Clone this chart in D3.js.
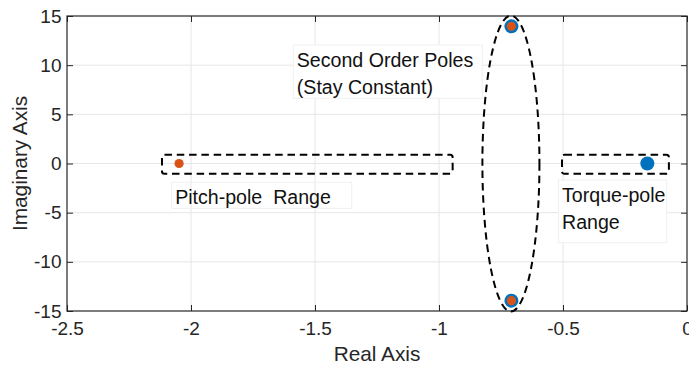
<!DOCTYPE html>
<html>
<head>
<meta charset="utf-8">
<script src="https://cdn.jsdelivr.net/npm/d3@7"></script>
<style>
  body { margin: 0; background: #fff; }
  text { font-family: "Liberation Sans", Arial, sans-serif; }
</style>
</head>
<body>
<div id="chart"></div>
<script>
// tick values
const xTicks = [-2.5, -2, -1.5, -1, -0.5, 0];
const yTicks = [-15, -10, -5, 0, 5, 10, 15];

// poles: [real, imag]
const secondOrderPoles = [[-0.708, 13.95], [-0.708, -13.95]];
const pitchPole = [[-2.048, 0]];
const torquePole = [[-0.16, 0]];

// annotation shapes in data units: [x1, x2, yTop, yBottom]
const pitchRange = [-2.117, -0.945, 0.9, -1.05];
const torqueRange = [-0.504, -0.073, 0.9, -1.05];
// ellipse: [cx, cy, rx, ry]
const poleEllipse = [-0.71, 0, 0.115, 15.05];

// text boxes: [x1, x2, yTop, yBottom], lines
const textBoxes = [
  {box: [-1.5875, -0.8254, 12.05, 6.63], lines: ['Second Order Poles', '(Stay Constant)'], fill: '#fff'},
  {box: [-2.078, -1.352, -1.91, -4.56], lines: ['Pitch-pole\u00a0 Range'], fill: 'none'},
  {box: [-0.518, -0.082, -1.68, -8.05], lines: ['Torque-pole', 'Range'], fill: '#fff'}
];

const width = 689;
const height = 365;
const margin = {top: 16, right: 2, bottom: 54, left: 67};

const svg = d3.select('#chart')
  .append('svg')
    .attr('width', width)
    .attr('height', height);

const x = d3.scaleLinear()
  .domain([-2.5, 0])
  .range([margin.left, width - margin.right]);
const y = d3.scaleLinear()
  .domain([-15, 15])
  .range([height - margin.bottom, margin.top]);

const axisColor = '#262626';

// grid
svg.append('g')
  .selectAll('line')
  .data(xTicks.slice(1, -1))
  .join('line')
    .attr('x1', d => x(d)).attr('x2', d => x(d))
    .attr('y1', y(15)).attr('y2', y(-15))
    .attr('stroke', '#e6e6e6')
    .attr('stroke-width', 1);
svg.append('g')
  .selectAll('line')
  .data(yTicks.slice(1, -1))
  .join('line')
    .attr('x1', x(-2.5)).attr('x2', x(0))
    .attr('y1', d => y(d)).attr('y2', d => y(d))
    .attr('stroke', '#e6e6e6')
    .attr('stroke-width', 1);

// text boxes
const tb = svg.append('g')
  .selectAll('g')
  .data(textBoxes)
  .join('g');
tb.append('rect')
  .attr('x', d => x(d.box[0]))
  .attr('y', d => y(d.box[2]))
  .attr('width', d => x(d.box[1]) - x(d.box[0]))
  .attr('height', d => y(d.box[3]) - y(d.box[2]))
  .attr('fill', d => d.fill)
  .attr('stroke', '#f0f0f0')
  .attr('stroke-width', 1);
tb.selectAll('text')
  .data(d => d.lines.map((l, i) => ({l, i, box: d.box})))
  .join('text')
    .attr('x', d => x(d.box[0]) + 3.5)
    .attr('y', d => y(d.box[2]) + 22 + d.i * 27)
    .attr('font-size', 19.6)
    .attr('fill', '#111')
    .text(d => d.l);

// axes
const xAxis = d3.axisBottom(x)
  .tickValues(xTicks)
  .tickSizeInner(-6)
  .tickSizeOuter(0)
  .tickPadding(11)
  .tickFormat(d => String(d));
const yAxis = d3.axisLeft(y)
  .tickValues(yTicks)
  .tickSizeInner(-6)
  .tickSizeOuter(0)
  .tickPadding(5.5)
  .tickFormat(d => String(d));

svg.append('g')
  .attr('transform', `translate(0,${height - margin.bottom})`)
  .call(xAxis)
  .call(g => g.select('.domain').remove())
  .call(g => g.selectAll('.tick line').attr('stroke', axisColor))
  .call(g => g.selectAll('.tick text')
    .attr('fill', axisColor)
    .style('font-size', '19px')
    .style('font-family', '"Liberation Sans", Arial, sans-serif'));
svg.append('g')
  .attr('transform', `translate(${margin.left},0)`)
  .call(yAxis)
  .call(g => g.select('.domain').remove())
  .call(g => g.selectAll('.tick line').attr('stroke', axisColor))
  .call(g => g.selectAll('.tick text')
    .attr('fill', axisColor)
    .style('font-size', '19px')
    .style('font-family', '"Liberation Sans", Arial, sans-serif'));

// top and right ticks
svg.append('g')
  .attr('transform', `translate(0,${margin.top})`)
  .call(d3.axisTop(x).tickValues(xTicks).tickSizeInner(-6).tickSizeOuter(0).tickFormat(''))
  .call(g => g.select('.domain').remove())
  .call(g => g.selectAll('.tick line').attr('stroke', axisColor));
svg.append('g')
  .attr('transform', `translate(${width - margin.right},0)`)
  .call(d3.axisRight(y).tickValues(yTicks).tickSizeInner(-6).tickSizeOuter(0).tickFormat(''))
  .call(g => g.select('.domain').remove())
  .call(g => g.selectAll('.tick line').attr('stroke', axisColor));

// box
svg.append('rect')
  .attr('x', x(-2.5))
  .attr('y', y(15))
  .attr('width', x(0) - x(-2.5))
  .attr('height', y(-15) - y(15))
  .attr('fill', 'none')
  .attr('stroke', axisColor)
  .attr('stroke-width', 1.2);

// axis labels
svg.append('text')
  .attr('x', (x(-2.5) + x(0)) / 2)
  .attr('y', 361)
  .attr('text-anchor', 'middle')
  .attr('font-size', 20.8)
  .attr('fill', axisColor)
  .text('Real Axis');
svg.append('text')
  .attr('transform', `translate(27,${(y(15) + y(-15)) / 2}) rotate(-90)`)
  .attr('text-anchor', 'middle')
  .attr('font-size', 20.8)
  .attr('fill', axisColor)
  .text('Imaginary Axis');

// dashed annotation shapes
const dash = '7.5,4.8';
svg.append('g')
  .selectAll('rect')
  .data([pitchRange, torqueRange])
  .join('rect')
    .attr('x', d => x(d[0]))
    .attr('y', d => y(d[2]))
    .attr('width', d => x(d[1]) - x(d[0]))
    .attr('height', d => y(d[3]) - y(d[2]))
    .attr('rx', 2.5)
    .attr('fill', 'none')
    .attr('stroke', '#000')
    .attr('stroke-width', 2)
    .attr('stroke-dasharray', dash);
svg.append('ellipse')
  .attr('cx', x(poleEllipse[0]))
  .attr('cy', y(poleEllipse[1]))
  .attr('rx', x(poleEllipse[0] + poleEllipse[2]) - x(poleEllipse[0]))
  .attr('ry', y(0) - y(poleEllipse[3]))
  .attr('fill', 'none')
  .attr('stroke', '#000')
  .attr('stroke-width', 2)
  .attr('stroke-dasharray', dash);

// poles
const blue = '#0072BD';
const orange = '#D95319';
svg.append('g')
  .selectAll('circle')
  .data(secondOrderPoles.concat(torquePole))
  .join('circle')
    .attr('cx', d => x(d[0]))
    .attr('cy', d => y(d[1]))
    .attr('r', 7)
    .attr('fill', blue);
svg.append('g')
  .selectAll('circle')
  .data(secondOrderPoles.concat(pitchPole))
  .join('circle')
    .attr('cx', d => x(d[0]))
    .attr('cy', d => y(d[1]))
    .attr('r', 4.6)
    .attr('fill', orange);
</script>
</body>
</html>
